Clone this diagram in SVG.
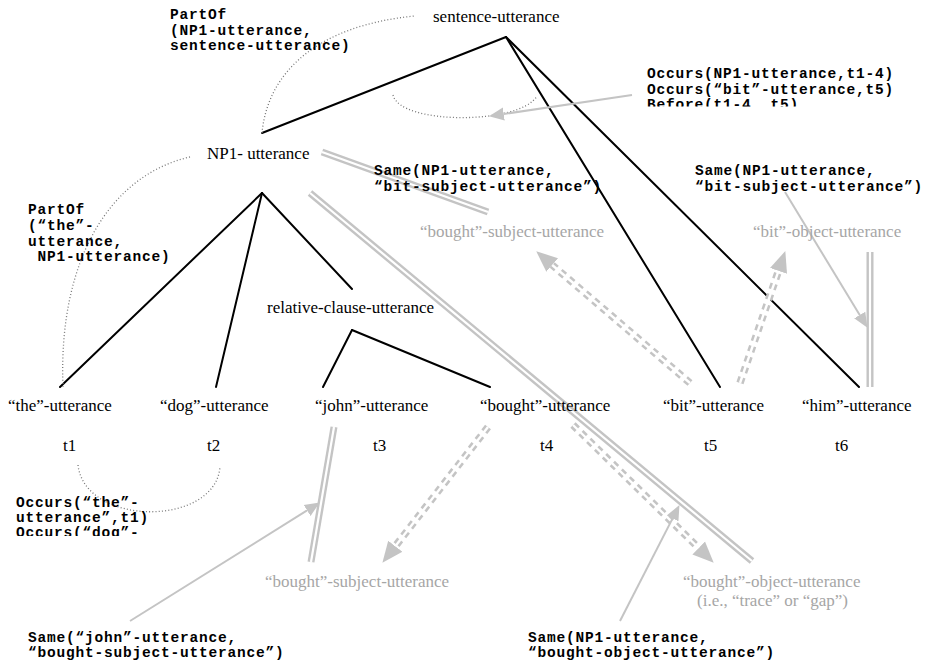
<svg xmlns="http://www.w3.org/2000/svg" width="925" height="662" viewBox="0 0 925 662">
<style>
.lbl{font-family:"Liberation Serif","Times New Roman",serif;font-size:17px;fill:#000}
.glbl{font-family:"Liberation Serif","Times New Roman",serif;font-size:17px;fill:#a6a6a6}
.mono{font-family:"Liberation Mono","Courier New",monospace;font-size:14.5px;letter-spacing:0.8px;font-weight:bold;fill:#000}
.tree{stroke:#000;stroke-width:2;fill:none;stroke-linecap:round}
.dot{stroke:#777;stroke-width:1.3;fill:none;stroke-dasharray:1 2.2}
.dblo{stroke:#c4c4c4;stroke-width:7;fill:none}
.dbli{stroke:#fff;stroke-width:2.2;fill:none}
.dsho{stroke:#c4c4c4;stroke-width:7.5;fill:none;stroke-dasharray:6 5}
.dshi{stroke:#fff;stroke-width:2.4;fill:none}
.thin{stroke:#c4c4c4;stroke-width:2;fill:none}
</style>
<defs>
<marker id="bigHead" markerUnits="userSpaceOnUse" markerWidth="22" markerHeight="20" viewBox="0 -10 22 20" refX="0" refY="0" orient="auto">
<path d="M0,-9 L21,0 L0,9 z" fill="#c4c4c4"/>
</marker>
<marker id="smallHead" markerUnits="userSpaceOnUse" markerWidth="16" markerHeight="14" viewBox="0 -7 16 14" refX="0" refY="0" orient="auto">
<path d="M0,-6.5 L15,0 L0,6.5 z" fill="#c4c4c4"/>
</marker>
<clipPath id="clipTop"><rect x="600" y="50" width="325" height="56.5"/></clipPath>
<clipPath id="clipBot"><rect x="0" y="490" width="200" height="46"/></clipPath>
</defs>

<g id="connectors">
<path class="tree" d="M506,37 L262,133"/>
<path class="tree" d="M506,37 L720,387"/>
<path class="tree" d="M506,37 L859,387"/>
<path class="tree" d="M262,193 L60,387"/>
<path class="tree" d="M262,193 L216,387"/>
<path class="tree" d="M262,193 L352,289"/>
<path class="tree" d="M352,330 L323,387"/>
<path class="tree" d="M352,330 L490,387"/>
<path class="dot" d="M262,133 C268,70 320,25 415,16"/>
<path class="dot" d="M393,95 C400,125 520,125 537,96"/>
<path class="dot" d="M190,157 C110,175 58,260 63,387"/>
<path class="dot" d="M78,465 C85,527 215,527 220,467"/>
<path class="dblo" d="M322,152 L488,212"/>
<path class="dbli" d="M322,152 L488,212"/>
<path class="dblo" d="M310,193 L752,561"/>
<path class="dbli" d="M310,193 L752,561"/>
<path class="dblo" d="M334,427 L311,562"/>
<path class="dbli" d="M334,427 L311,562"/>
<path class="dblo" d="M870,252 L870,387"/>
<path class="dbli" d="M870,252 L870,387"/>
<path class="dsho" d="M690,383 L552.2,265" marker-end="url(#bigHead)"/>
<path class="dshi" d="M690,383 L552.2,265"/>
<path class="dsho" d="M740,383 L778.5,270.9" marker-end="url(#bigHead)"/>
<path class="dshi" d="M740,383 L778.5,270.9"/>
<path class="dsho" d="M488,427 L395.3,546.2" marker-end="url(#bigHead)"/>
<path class="dshi" d="M488,427 L395.3,546.2"/>
<path class="dsho" d="M573,425 L698.7,548" marker-end="url(#bigHead)"/>
<path class="dshi" d="M573,425 L698.7,548"/>
<path class="thin" d="M632,95 L503.8,114" marker-end="url(#smallHead)"/>
<path class="thin" d="M785,192 L859.7,315" marker-end="url(#smallHead)"/>
<path class="thin" d="M130,621 L307.1,510.4" marker-end="url(#smallHead)"/>
<path class="thin" d="M620,621 L672.6,518.4" marker-end="url(#smallHead)"/>
</g>

<g id="sentence"><text class="lbl" x="433" y="22">sentence-utterance</text></g>
<g id="np1"><text class="lbl" x="207" y="159">NP1- utterance</text></g>
<g id="relclause"><text class="lbl" x="267" y="313">relative-clause-utterance</text></g>
<g id="the"><text class="lbl" x="8" y="411">“the”-utterance</text><text class="lbl" x="63" y="451">t1</text></g>
<g id="dog"><text class="lbl" x="160" y="411">“dog”-utterance</text><text class="lbl" x="207" y="451">t2</text></g>
<g id="john"><text class="lbl" x="315" y="411">“john”-utterance</text><text class="lbl" x="373" y="451">t3</text></g>
<g id="bought"><text class="lbl" x="480" y="411">“bought”-utterance</text><text class="lbl" x="540" y="451">t4</text></g>
<g id="bit"><text class="lbl" x="663" y="411">“bit”-utterance</text><text class="lbl" x="704" y="451">t5</text></g>
<g id="him"><text class="lbl" x="802" y="411">“him”-utterance</text><text class="lbl" x="835" y="451">t6</text></g>
<g id="bought-subj-upper"><text class="glbl" x="420" y="237">“bought”-subject-utterance</text></g>
<g id="bit-obj"><text class="glbl" x="753" y="237">“bit”-object-utterance</text></g>
<g id="bought-subj-lower"><text class="glbl" x="265" y="587">“bought”-subject-utterance</text></g>
<g id="bought-obj"><text class="glbl" x="683" y="587">“bought”-object-utterance</text><text class="glbl" x="697" y="606">(i.e., “trace” or “gap”)</text></g>

<g id="ann-partof-np1">
<text class="mono" x="170" y="18.5">PartOf</text>
<text class="mono" x="170" y="34.5">(NP1-utterance,</text>
<text class="mono" x="170" y="50">sentence-utterance)</text>
</g>
<g id="ann-occurs-top" clip-path="url(#clipTop)">
<text class="mono" x="647" y="78">Occurs(NP1-utterance,t1-4)</text>
<text class="mono" x="647" y="94">Occurs(“bit”-utterance,t5)</text>
<text class="mono" x="647" y="109">Before(t1-4, t5)</text>
</g>
<g id="ann-same-mid">
<text class="mono" x="374" y="175">Same(NP1-utterance,</text>
<text class="mono" x="374" y="191">“bit-subject-utterance”)</text>
</g>
<g id="ann-same-right">
<text class="mono" x="695" y="175">Same(NP1-utterance,</text>
<text class="mono" x="695" y="191">“bit-subject-utterance”)</text>
</g>
<g id="ann-partof-the">
<text class="mono" x="28" y="214">PartOf</text>
<text class="mono" x="28" y="230">(“the”-</text>
<text class="mono" x="28" y="245.5">utterance,</text>
<text class="mono" x="28" y="261" xml:space="preserve"> NP1-utterance)</text>
</g>
<g id="ann-occurs-bottom" clip-path="url(#clipBot)">
<text class="mono" x="16" y="507">Occurs(“the”-</text>
<text class="mono" x="16" y="522">utterance”,t1)</text>
<text class="mono" x="16" y="537">Occurs(“dog”-</text>
</g>
<g id="ann-same-john">
<text class="mono" x="28" y="642">Same(“john”-utterance,</text>
<text class="mono" x="28" y="657">“bought-subject-utterance”)</text>
</g>
<g id="ann-same-bought-obj">
<text class="mono" x="528" y="642">Same(NP1-utterance,</text>
<text class="mono" x="528" y="657">“bought-object-utterance”)</text>
</g>
</svg>
